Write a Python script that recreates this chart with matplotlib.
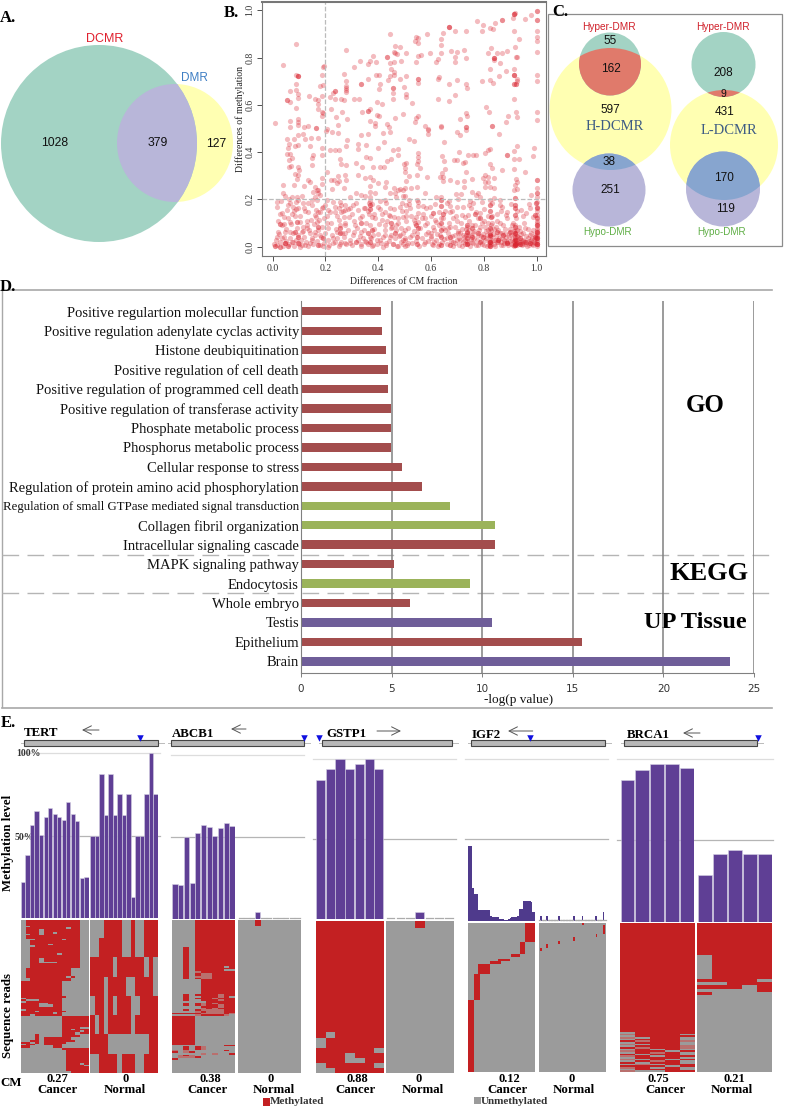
import numpy as np
import matplotlib
matplotlib.use("Agg")
import matplotlib.pyplot as plt
from matplotlib.colors import ListedColormap
from matplotlib.patches import Ellipse, Rectangle

W, H = 787, 1109
SERIF = ["Liberation Serif", "DejaVu Serif"]
SANS = ["Liberation Sans", "DejaVu Sans"]

# Panel A / C counts
VENN_A = ["1028", "379", "127"]
VENN_C_LEFT = ["55", "162", "597", "38", "251"]
VENN_C_RIGHT = ["208", "9", "431", "170", "119"]

# Panel B, digitised (CM difference, methylation difference)
POINTS_UPPER = [
    (.09, .857), (.04, .77), (.19, .762), (.195, .765), (.28, .832), (.088, .728), (.187, .728), (.088, .69),
    (.18, .68), (.193, .685), (.068, .66), (.088, .663), (.096, .646), (.096, .63), (.067, .61), (.138, .639),
    (.161, .623), (.171, .62), (.171, .604), (.171, .581), (.186, .639), (.088, .585), (.186, .57), (.192, .567),
    (.186, .551), (.009, .525), (.068, .532), (.068, .506), (.096, .539), (.096, .529), (.096, .516), (.118, .508),
    (.136, .509), (.205, .496), (.217, .632), (.228, .649), (.236, .623), (.259, .626), (.27, .622), (.272, .732),
    (.277, .70), (.277, .68), (.277, .671), (.277, .661), (.277, .653), (.221, .581), (.241, .549), (.262, .57),
    (.282, .54), (.249, .515), (.309, .76), (.331, .786), (.36, .773), (.369, .784), (.382, .808), (.392, .781),
    (.445, .901), (.465, .848), (.482, .843), (.459, .824), (.463, .818), (.473, .817), (.504, .821), (.444, .779),
    (.459, .781), (.488, .786), (.542, .783), (.551, .805), (.561, .81), (.542, .887), (.55, .884), (.54, .869),
    (.55, .863), (.587, .9), (.597, .819), (.647, .903), (.64, .879), (.64, .852), (.64, .818), (.625, .795),
    (.619, .78), (.692, .914), (.733, .911), (.677, .828), (.699, .825), (.727, .831), (.692, .804), (.692, .783),
    (.732, .8), (.773, .955), (.797, .939), (.794, .913), (.823, .927), (.836, .921), (.843, .946), (.912, .966),
    (.913, .914), (.958, .963), (.98, .98), (1, .914), (1, .889), (1, .87), (.933, .879), (.918, .843), (1, .824),
    (.828, .841), (.849, .821), (.818, .821), (.87, .818), (.887, .828), (.862, .777), (.921, .801), (.926, .801),
    (.823, .752), (.883, .745), (.913, .753), (1, .726), (.857, .722), (.795, .702), (.823, .705), (.836, .691),
    (.928, .709), (.928, .7), (1, .701), (.916, .623), (.807, .59), (.821, .568), (.922, .568), (1, .57), (1, .536),
    (.891, .554), (.928, .549), (.884, .526), (.83, .51), (.732, .69), (.737, .67), (.697, .705), (.67, .688),
    (.692, .64), (.67, .616), (.625, .623), (.732, .567), (.738, .551), (.711, .542), (.732, .505), (.637, .508),
    (.576, .509), (.589, .499), (.55, .694), (.629, .719), (.625, .711), (.504, .721), (.484, .711), (.444, .722),
    (.436, .704), (.459, .74), (.459, .728), (.449, .75), (.391, .728), (.404, .725), (.36, .709), (.409, .69),
    (.405, .667), (.458, .652), (.458, .626), (.499, .674), (.506, .646), (.506, .635), (.309, .625), (.327, .623),
    (.396, .614), (.415, .604), (.53, .606), (.369, .582), (.338, .57), (.396, .557), (.405, .551), (.494, .563),
    (.465, .544), (.55, .553), (.545, .543), (.369, .532), (.387, .525), (.387, .512), (.433, .519), (.442, .505),
    (.538, .529), (.59, .495), (.59, .478), (.639, .509), (.699, .484), (.712, .472), (.732, .508), (.732, .492),
    (.833, .511), (.858, .478), (.518, .456), (.536, .449), (.651, .443),
]
POINTS_LOWER = [
    (.055, .456), (.08, .456), (.098, .472), (.117, .475), (.123, .456), (.145, .458), (.171, .461), (.224, .484),
    (.201, .489), (.249, .48), (.284, .451), (.337, .472), (.362, .475), (.419, .48), (.423, .444), (.444, .484),
    (.063, .433), (.086, .427), (.098, .43), (.06, .416), (.142, .427), (.186, .419), (.189, .388), (.217, .409),
    (.236, .409), (.251, .41), (.277, .427), (.324, .433), (.324, .413), (.356, .43), (.4, .416), (.457, .409),
    (.476, .413), (.054, .392), (.067, .391), (.155, .388), (.148, .377), (.063, .367), (.073, .374), (.255, .37),
    (.259, .348), (.318, .353), (.369, .377), (.356, .381), (.45, .371), (.435, .362), (.476, .388), (.07, .343),
    (.063, .339), (.098, .339), (.102, .324), (.148, .346), (.205, .315), (.277, .346), (.34, .339), (.381, .339),
    (.406, .339), (.421, .339), (.086, .306), (.098, .303), (.094, .286), (.083, .261), (.038, .261), (.121, .258),
    (.133, .282), (.142, .272), (.186, .289), (.189, .264), (.22, .282), (.234, .282), (.249, .3), (.251, .278),
    (.274, .303), (.28, .282), (.243, .268), (.272, .25), (.224, .244), (.322, .303), (.352, .289), (.369, .293),
    (.381, .282), (.369, .258), (.4, .268), (.431, .272), (.428, .254), (.46, .25), (.476, .24), (.494, .24),
    (.161, .254), (.171, .24), (.167, .24), (.155, .233), (.174, .226), (.161, .212), (.148, .197), (.18, .219),
    (.167, .197), (.136, .183), (.038, .226), (.048, .216), (.016, .188), (.033, .193), (.063, .202), (.073, .212),
    (.092, .212), (.11, .216), (.067, .183), (.088, .19), (.098, .197), (.079, .169), (.016, .169), (.035, .141),
    (.054, .155), (.083, .151), (.098, .162), (.117, .183), (.199, .176), (.186, .162), (.174, .148), (.161, .134),
    (.136, .148), (.205, .197), (.255, .188), (.274, .176), (.251, .162), (.259, .145), (.236, .145), (.217, .145),
    (.274, .155), (.293, .162), (.305, .176), (.293, .212), (.315, .226), (.337, .219), (.35, .216), (.369, .233),
    (.369, .212), (.369, .193), (.375, .127), (.35, .162), (.387, .226), (.406, .193), (.428, .197), (.444, .226),
    (.463, .226), (.469, .212), (.406, .159), (.425, .145), (.44, .134), (.482, .169), (.494, .216), (.042, .096),
    (.067, .106), (.117, .085), (.167, .106), (.205, .099), (.211, .078), (.274, .092), (.312, .092), (.337, .063),
    (.369, .042), (.425, .092), (.45, .078), (.469, .092), (.488, .078), (.494, .127), (.022, .063), (.016, .042),
    (.035, .035), (.048, .063), (.067, .063), (.11, .063), (.13, .078), (.142, .056), (.161, .063), (.148, .028),
    (.18, .049), (.23, .035), (.243, .063), (.274, .056), (.31, .063), (.325, .028), (.343, .035), (.363, .056),
    (.381, .049), (.406, .028), (.425, .049), (.444, .042), (.482, .049), (.494, .028), (.079, .021), (.104, 0),
    (.123, .007), (.142, .014), (.192, .004), (.211, 0), (.236, .021), (.255, .01), (.274, .014), (.293, .014),
    (.318, .021), (.337, .01), (.356, .021), (.375, .004), (.394, .01), (.419, 0), (.431, .014), (.457, .01),
    (.476, .004), (.494, .01), (.551, .395), (.551, .378), (.551, .361), (.546, .348), (.505, .355), (.497, .348),
    (.501, .331), (.501, .315), (.559, .331), (.517, .299), (.549, .303), (.587, .293), (.641, .384), (.65, .364),
    (.687, .368), (.698, .367), (.707, .401), (.741, .386), (.76, .386), (.77, .388), (.722, .354), (.728, .36),
    (.806, .395), (.817, .409), (.823, .415), (.916, .406), (.925, .426), (.99, .416), (.988, .385), (.916, .372),
    (.934, .371), (.823, .35), (.83, .331), (.87, .324), (.916, .329), (.957, .316), (.653, .329), (.643, .313),
    (.636, .296), (.646, .296), (.644, .278), (.672, .282), (.697, .274), (.733, .315), (.757, .286), (.725, .278),
    (.725, .252), (.796, .289), (.805, .303), (.817, .296), (.805, .275), (.817, .275), (.84, .292), (.805, .252),
    (.823, .251), (.84, .25), (.923, .286), (.925, .272), (.918, .261), (.916, .24), (.925, .244), (1, .247),
    (1, .212), (.506, .279), (.501, .247), (.525, .247), (.549, .254), (.483, .244), (.501, .214), (.577, .226),
    (.62, .212), (.64, .212), (.695, .223), (.713, .221), (.757, .233), (.78, .226), (.769, .219), (.786, .209),
    (.701, .202), (.669, .193), (.518, .197), (.546, .197), (.747, .193), (.84, .207), (.981, .219), (.506, .176),
    (.518, .179), (.552, .173), (.571, .172), (.672, .172), (.7, .169), (.744, .176), (.792, .19), (.823, .197),
    (.863, .197), (.86, .176), (.943, .155), (.974, .162), (.506, .151), (.552, .141), (.543, .127), (.577, .12),
    (.621, .106), (.672, .145), (.685, .12), (.716, .134), (.75, .162), (.786, .141), (.867, .151), (.886, .134),
    (.962, .141), (.501, .071), (.527, .049), (.577, .092), (.59, .063), (.609, .085), (.666, .078), (.703, .056),
    (.501, .035), (.514, .014), (.501, .004), (.577, .021), (.602, .035), (.609, .007), (.69, .014), (.709, .028),
    (.716, .004),
]
# the crowded band along the bottom, read less exactly
POINTS_BOTTOM = [
    (.005, .012), (.012, .03), (.018, .008), (.024, .055), (.03, .018), (.036, .09), (.04, .005), (.045, .04),
    (.05, .022), (.053, .075), (.058, .12), (.062, .01), (.066, .035), (.07, .095), (.074, .018), (.078, .06),
    (.082, .003), (.085, .13), (.089, .028), (.092, .08), (.096, .048), (.1, .012), (.104, .105), (.108, .03),
    (.112, .006), (.116, .065), (.12, .042), (.124, .15), (.128, .02), (.132, .09), (.136, .004), (.14, .07),
    (.144, .115), (.148, .035), (.152, .012), (.156, .095), (.16, .05), (.164, .155), (.168, .024), (.172, .07),
    (.176, .115), (.18, .008), (.184, .04), (.188, .085), (.192, .17), (.196, .016), (.2, .06), (.205, .13),
    (.21, .03), (.215, .008), (.22, .1), (.225, .05), (.23, .015), (.235, .17), (.24, .075), (.245, .035),
    (.25, .115), (.252, .005), (.256, .09), (.26, .02), (.264, .06), (.268, .15), (.272, .04), (.276, .1),
    (.28, .012), (.285, .07), (.29, .125), (.295, .03), (.3, .008), (.305, .05), (.31, .11), (.315, .018),
    (.32, .08), (.325, .155), (.33, .045), (.335, .004), (.34, .13), (.345, .07), (.35, .025), (.355, .1),
    (.36, .012), (.362, .06), (.365, .14), (.368, .09), (.372, .035), (.376, .18), (.38, .008), (.385, .075),
    (.39, .12), (.395, .03), (.4, .055), (.405, .095), (.41, .015), (.415, .14), (.42, .04), (.425, .07),
    (.43, .006), (.435, .11), (.44, .025), (.445, .165), (.45, .05), (.452, .085), (.456, .012), (.46, .125),
    (.464, .035), (.468, .07), (.472, .004), (.476, .1), (.48, .045), (.485, .02), (.49, .15), (.495, .06),
    (.5, .028), (.505, .11), (.51, .008), (.515, .08), (.52, .04), (.525, .13), (.53, .016), (.535, .065),
    (.54, .1), (.544, .025), (.548, .06), (.552, .105), (.556, .004), (.56, .08), (.565, .035), (.57, .14),
    (.575, .012), (.58, .055), (.585, .1), (.59, .022), (.595, .17), (.6, .045), (.605, .012), (.61, .07),
    (.615, .115), (.62, .03), (.625, .005), (.63, .09), (.634, .05), (.638, .12), (.642, .02), (.646, .08),
    (.65, .032), (.655, .15), (.66, .01), (.665, .06), (.67, .1), (.675, .025), (.68, .045), (.685, .004),
    (.69, .085), (.695, .13), (.7, .03), (.705, .008), (.71, .06), (.715, .1), (.72, .018), (.725, .04),
    (.73, .125), (.733, .075), (.737, .022), (.74, .05), (.744, .11), (.748, .003), (.752, .033), (.756, .09),
    (.76, .015), (.765, .065), (.77, .145), (.775, .028), (.78, .007), (.785, .085), (.79, .045), (.795, .012),
    (.8, .11), (.804, .03), (.808, .065), (.812, .005), (.816, .1), (.82, .02), (.822, .04), (.824, .06),
    (.826, .09), (.828, .012), (.832, .13), (.836, .03), (.84, .075), (.844, .004), (.848, .045), (.852, .11),
    (.856, .018), (.86, .06), (.864, .008), (.868, .035), (.872, .09), (.876, .014), (.88, .055), (.884, .025),
    (.888, .12), (.892, .006), (.896, .04), (.9, .075), (.904, .012), (.908, .03), (.912, .1), (.914, .05),
    (.916, .004), (.918, .016), (.919, .035), (.92, .07), (.921, .01), (.922, .12), (.924, .024), (.926, .045),
    (.928, .006), (.932, .085), (.936, .018), (.94, .055), (.944, .008), (.948, .03), (.952, .1), (.956, .012),
    (.96, .045), (.964, .004), (.968, .075), (.972, .025), (.976, .015), (.98, .06), (.984, .035), (.988, .008),
    (.992, .02), (.996, .05), (1, .004), (1, .012), (1, .02), (1, .028), (1, .04), (1, .048), (1, .056), (1, .07),
    (1, .08), (1, .09), (1, .1), (1, .11), (1, .135), (1, .15), (1, .17), (1, .19),
]
POINTS_BAND = [
    (.02, .11), (.03, .14), (.045, .125), (.06, .175), (.075, .14), (.09, .16), (.105, .13), (.12, .165), (.13, .11),
    (.15, .175), (.165, .125), (.18, .145), (.195, .12), (.21, .155), (.23, .19), (.245, .13), (.26, .175), (.27, .125),
    (.285, .16), (.3, .14), (.315, .185), (.33, .12), (.345, .165), (.36, .15), (.365, .185), (.385, .14), (.4, .17),
    (.415, .115), (.43, .185), (.445, .13), (.46, .16), (.475, .12), (.49, .185), (.505, .13), (.52, .165), (.535, .115),
    (.55, .19), (.565, .12), (.58, .165), (.6, .13), (.615, .18), (.63, .145), (.645, .12), (.66, .185), (.68, .15),
    (.7, .11), (.72, .17), (.74, .135), (.76, .185), (.78, .12), (.8, .16), (.815, .13), (.83, .185), (.85, .14),
    (.87, .17), (.89, .145), (.905, .18), (.925, .15), (.95, .13), (.97, .18), (.985, .125),
]
POINTS_BOTTOM_RIGHT = [
    (.602, .06), (.612, .02), (.622, .055), (.632, .012), (.652, .07), (.662, .035), (.672, .085), (.682, .018),
    (.692, .05), (.702, .065), (.708, .035), (.716, .075), (.722, .05), (.728, .012), (.731, .03), (.734, .048),
    (.736, .085), (.738, .058), (.742, .015), (.746, .07), (.75, .05), (.755, .02), (.758, .06), (.762, .035),
    (.768, .09), (.772, .008), (.778, .05), (.782, .07), (.788, .025), (.792, .1), (.796, .055), (.802, .008),
    (.806, .085), (.81, .035), (.814, .05), (.818, .07), (.821, .008), (.823, .03), (.825, .02), (.827, .045),
    (.829, .07), (.831, .1), (.834, .055), (.838, .012), (.842, .03), (.846, .085), (.85, .02), (.854, .07),
    (.858, .035), (.862, .1), (.866, .02), (.87, .06), (.874, .008), (.878, .03), (.882, .075), (.886, .04),
    (.89, .018), (.894, .06), (.898, .025), (.902, .05), (.906, .09), (.91, .008), (.913, .065), (.915, .025),
    (.917, .04), (.919, .012), (.92, .09), (.922, .055), (.923, .03), (.925, .014), (.927, .07), (.93, .04),
    (.934, .02), (.938, .065), (.942, .03), (.946, .012), (.95, .06), (.954, .025), (.958, .08), (.962, .018),
    (.966, .035), (.97, .006), (.974, .05), (.978, .03), (.982, .012), (.986, .07), (.99, .028), (.994, .014),
    (.998, .035),
]
# points that overlap, with how many sit on the same spot
POINTS_STACKED = [
    (.095, .722, 3), (.055, .622, 2), (.165, .502, 2), (.235, .66, 2), (.433, .801, 2), (.67, .928, 3),
    (.87, .959, 2), (.916, .986, 3), (.92, .987, 1), (1, .999, 2), (1, .96, 2), (.838, .798, 3), (.838, .79, 1),
    (.913, .728, 3), (.913, .688, 2), (.922, .688, 2), (.55, .709, 2), (.337, .687, 2), (.458, .67, 2),
    (.361, .573, 2), (.889, .388, 2), (1, .282, 2), (1, .226, 2), (.64, .197, 2), (.918, .207, 2), (.64, .172, 2),
    (.823, .176, 2), (.918, .176, 2), (.918, .162, 2), (.999, .183, 2), (1, .162, 2), (.609, .141, 2),
    (.645, .137, 2), (.767, .137, 2), (.786, .12, 2), (.823, .151, 2), (.826, .127, 2), (.918, .134, 2),
    (.994, .134, 2), (1, .12, 2), (.369, .176, 2), (.369, .159, 2), (.029, .096, 2), (.092, .103, 2),
    (.174, .085, 2), (.255, .078, 2), (.255, .056, 2), (.337, .099, 2), (.375, .071, 2), (.45, .099, 2),
    (.086, .063, 2), (.095, .042, 2), (.192, .035, 2), (.369, .021, 2), (.463, .056, 2), (.01, .004, 2),
    (.029, 0, 2), (.048, .014, 3), (.06, .004, 2), (.098, .014, 2), (.174, .007, 2), (.543, .092, 2),
    (.552, .078, 2), (.546, .042, 2), (.64, .099, 2), (.64, .071, 2), (.64, .042, 2), (.64, .007, 2),
    (.672, .042, 2), (.672, .007, 2), (.735, .092, 2), (.735, .063, 2), (.735, .035, 2), (.735, .01, 3),
    (.754, .078, 2), (.754, .042, 2), (.779, .056, 2), (.786, .021, 2), (.798, .042, 2), (.823, .078, 2),
    (.823, .049, 3), (.823, .021, 3), (.823, .004, 3), (.849, .063, 2), (.855, .028, 3), (.874, .049, 2),
    (.887, .014, 3), (.9, .063, 2), (.918, .085, 2), (.918, .056, 3), (.918, .028, 3), (.918, .007, 4),
    (.937, .035, 2), (.937, .01, 3), (.956, .021, 2), (.974, .014, 2), (.994, .042, 2), (1, .092, 2),
    (1, .063, 3), (1, .035, 3), (1, .01, 3), (.546, .01, 2),
]

# Panel D
GO_TERMS = [
    "Positive regulartion molecullar function", "Positive regulation adenylate cyclas activity",
    "Histone deubiquitination", "Positive regulation of cell death", "Positive regulation of programmed cell death",
    "Positive regulation of transferase activity", "Phosphate metabolic process", "Phosphorus metabolic process",
    "Cellular response to stress", "Regulation of protein amino acid phosphorylation",
    "Regulation of small GTPase mediated signal transduction", "Collagen fibril organization",
    "Intracellular signaling cascade", "MAPK signaling pathway", "Endocytosis", "Whole embryo", "Testis",
    "Epithelium", "Brain",
]
GO_VALUES = [4.4, 4.45, 4.7, 4.8, 4.8, 4.95, 4.95, 4.95, 5.6, 6.7, 8.2, 10.7, 10.7, 5.15, 9.35, 6.0, 10.55, 15.5, 23.65]
GO_KIND = "rrrrrrrrrrggrrgrprp"

# Panel E, methylation level per CpG
TERT_CANCER = [21.8, 38.4, 56.6, 65, 50.5, 61.2, 66.7, 63.4, 61.2, 59.8, 70.3, 63.4, 59, 24, 24.8]
TERT_NORMAL = [50, 50, 87.5, 62.5, 87.5, 62.5, 75, 62.5, 75, 12.5, 50, 50, 75, 100, 75]
ABCB1_CANCER = [21.5, 20.7, 49.8, 22, 52.2, 57.3, 55.9, 50.8, 55.7, 58.3, 56.9]
ABCB1_NORMAL = [0, 0, 0, 4.5, 0, 0, 0, 0, 0, 0, 0]
GSTP1_CANCER = [86.5, 93.3, 100, 93.3, 96.5, 100, 93.3]
GSTP1_NORMAL = [0, 0, 0, 4.2, 0, 0, 0]
IGF2_CANCER = [46, 46, 46, 20, 16.5, 16.5, 16.5, 6.5, 6.5, 6.5, 6.5, 6.5, 6.5, 6.5, 6.5, 3, 2.5, 2.5, 2, 2, 2, 1, .8,
               .8, .5, .5, .5, 1, 1.5, 2.3, 2.3, 2.3, 2.3, 2.8, 7.5, 7.5, 7.5, 12, 12, 12, 12, 12, 11.5, 5.5, 5.5]
IGF2_NORMAL = [0, 2.9, 0, 0, 0, 2.9, 0, 0, 0, 0, 0, 0, 0, 2.9, 0, 0, 0, 0, 0, 0, 0, 0, 0, 2.9, 0, 0, 0, 0, 0, 2.9, 0, 0,
               0, 0, 0, 0, 0, 0, 2.9, 0, 0, 0, 0, 5.4, 0]
BRCA1_CANCER = [87, 93.3, 96.7, 96.7, 94.3]
BRCA1_NORMAL = [28.6, 41.8, 43.9, 41.8, 41.8]

# Panel E reads, (repeat, pattern): 1 methylated, 0 unmethylated, + faint
TERT_CANCER_READS = [
    (4, "011111111111100"), (1, "001111111111100"), (1, "011111111101100"), (2, "011101111111100"),
    (1, "011101101111100"), (1, "001101111111100"), (2, "011111111111100"), (1, "000111111011100"),
    (2, "001111111111100"), (1, "001111011111100"), (1, "000111111111100"), (4, "001111111111100"),
    (1, "001111110111100"), (2, "001111111111100"), (2, "001101111111100"), (1, "001100001111100"),
    (3, "001111111111100"), (5, "011111111110000"), (1, "011111111101000"), (2, "001111111110000"),
    (9, "111111111000000"), (1, "111111111100000"), (1, "011111111000000"), (1, "100011111000000"),
    (1, "011111111000000"), (1, "111100111000000"), (2, "111100011000000"), (1, "111111111000000"),
    (1, "011111111000000"), (1, "111011111100000"), (1, "111111101000000"), (1, "110111111000000"),
    (7, "000000000111111"), (1, "000000000111100"), (1, "000000000110111"), (1, "000000000111101"),
    (1, "000000000111011"), (1, "000100000111000"), (1, "000100000111100"), (2, "000101111110000"),
    (1, "001101111111000"), (1, "110101111100000"), (1, "011001111000000"), (2, "110000011000000"),
    (1, "000000000111111"), (8, "000000000011111"), (1, "000000000011101"), (1, "000000000011110"),
    (3, "000000000011111"), (1, "000000000001111"),
]
TERT_NORMAL_READS = [
    (6, "000111100100111"), (6, "001111100100111"), (6, "111110111111010"), (6, "111011110011110"),
    (6, "011010111001111"), (6, "101011111011111"), (6, "111100000000011"), (6, "001111011100111"),
]
ABCB1_CANCER_READS = [
    (17, "00001111111"), (11, "00101111111"), (1, "00101111101"), (1, "00101111111"), (1, "00101111100"),
    (1, "0010+111111"), (1, "00101++1111"), (1, "00101++1111"), (1, "0010+++1111"), (1, "00101++1111"),
    (9, "00000111111"), (1, "00101111+11"), (1, "00100111+10"), (1, "0010111+111"), (1, "00100111+11"),
    (1, "00000011111"), (1, "00101+1+111"), (1, "00101+11+11"), (1, "00000111+11"), (1, "00000+1+111"),
    (1, "00101++++11"), (1, "0000+1+++11"), (1, "11111++++1+"), (1, "0000+1111+0"), (17, "11110000000"),
    (1, "00000000011"), (2, "00101+00000"), (1, "+0+00000010"), (1, "10+10000000"), (1, "00000+0+001"),
    (1, "0+1+0000000"), (1, "0+++1000000"), (1, "10000000000"), (8, "00000000000"),
]
ABCB1_NORMAL_READS = [(4, "00010000000"), (88, "00000000000")]
GSTP1_CANCER_READS = [
    (22, "1111111"), (1, "1011111"), (2, "0111111"), (1, "1111110"), (1, "1110111"), (1, "1110011"),
    (1, "0111110"), (1, "0011111"),
]
GSTP1_NORMAL_READS = [(1, "0001000"), (22, "0000000")]
BRCA1_CANCER_READS = [
    (66, "11111"), (1, "01111"), (1, "+1110"), (1, "01111"), (1, "+0110"), (1, "01110"), (1, "1+11+"), (1, "01110"),
    (1, "+0110"), (1, "0111+"), (1, "1+11+"), (1, "01010"), (1, "+1101"), (1, "01+10"), (1, "10110"), (1, "+1011"),
    (1, "01110"), (1, "+0101"), (1, "01+10"), (1, "10110"), (1, "0+011"), (1, "11101"), (1, "+1010"), (1, "01110"),
    (1, "+0011"),
]
BRCA1_NORMAL_READS = [
    (10, "11111"), (7, "01111"), (1, "11110"), (1, "00111"), (1, "11101"), (1, "00001"), (1, "10000"), (23, "00000"),
]
# IGF2 is too sparse for patterns: (repeat, first column, width), rows from the top
IGF2_CANCER_READS = [
    (12, 38, 7), (7, 35, 3), (2, 29, 6), (1, 0, 0), (1, 20, 8), (2, 15, 7), (6, 7, 8), (15, 4, 4), (43, 0, 4),
]
IGF2_NORMAL_READS = [(2, 29, 1), (5, 43, 1), (2, 38, 1), (2, 23, 1), (2, 13, 1), (2, 5, 1), (2, 1, 1), (71, 0, 0)]

GENES = ["TERT", "ABCB1", "GSTP1", "IGF2", "BRCA1"]
CM_CANCER = ["0.27", "0.38", "0.88", "0.12", "0.75"]
CM_NORMAL = ["0", "0", "0", "0", "0.21"]

# colours
GREEN = "#A3D3C4"
YELLOW = "#FFFFB2"
PURPLE = "#B8B6D9"
OVER_RED = "#E07A6B"
OVER_BLUE = "#87A5CF"
FRAME = "#8C8C8C"
GO_COLORS = {"r": "#A34D4D", "g": "#9BB35A", "p": "#6F5E99"}
READ_CMAP = ListedColormap(["#9B9B9B", "#C32022", "#B9706E"])


def px_axes(x0, y0, x1, y1):
    ax = fig.add_axes([x0 / W, 1 - y1 / H, (x1 - x0) / W, (y1 - y0) / H])
    ax.patch.set_visible(False)
    return ax


def add_ellipse(box, color, clip=None, zorder=1):
    cx, cy, rx, ry = box
    patch = Ellipse((cx, cy), 2 * rx, 2 * ry, facecolor=color, edgecolor="none", zorder=zorder)
    ov.add_patch(patch)
    if clip is not None:
        patch.set_clip_path(clip)
    return patch


def label(x, y, s, **kw):
    kw.setdefault("ha", "center")
    kw.setdefault("va", "center")
    ov.text(x, y, s, zorder=6, **kw)


def draw_bars(box, values):
    ax = px_axes(*box)
    n = len(values)
    centers = np.arange(n) + 0.5
    if n > 20:
        # IGF2 has many narrow columns, no gaps between them
        ax.bar(centers, values, width=1.0, color="#4F3A8C", linewidth=0)
    else:
        ax.bar(centers, values, width=0.93, color="#5F3F95", edgecolor="#D5D1E3", linewidth=0.4)
    for c, v in zip(centers, values):
        if v == 0:
            half = 0.5 if n > 20 else 0.38
            ax.plot([c - half, c + half], [0.4, 0.4], color="#ABABAB", linewidth=0.9, clip_on=False)
    ax.set_xlim(0, n)
    ax.set_ylim(0, 100)
    ax.axis("off")
    return ax


def draw_reads(box, rows):
    matrix = []
    for repeat, pattern in rows:
        codes = [{"0": 0, "1": 1, "+": 2}[c] for c in pattern]
        matrix += [codes] * repeat
    ax = px_axes(*box)
    ax.imshow(np.array(matrix), aspect="auto", cmap=READ_CMAP, vmin=0, vmax=2, interpolation="nearest")
    ax.axis("off")


def sparse_rows(rows, n_cols):
    out = []
    for repeat, first, width in rows:
        pattern = "0" * first + "1" * width + "0" * (n_cols - first - width)
        out.append((repeat, pattern))
    return out


fig = plt.figure(figsize=(W / 100, H / 100), dpi=100, facecolor="white")

# pixel overlay for venns, frames and loose text
ov = fig.add_axes([0, 0, 1, 1])
ov.set_xlim(0, W)
ov.set_ylim(H, 0)
ov.axis("off")

# ---- A. venn
add_ellipse((175, 143, 58, 59), YELLOW)
dcmr = add_ellipse((99, 143.5, 98, 98.5), GREEN, zorder=2)
add_ellipse((175, 143, 58, 59), PURPLE, clip=dcmr, zorder=3)
label(105, 39, "DCMR", color="#E0202E", family=SANS, fontsize=9)
label(194, 78, "DMR", color="#3F7FC4", family=SANS, fontsize=8.5)
for (x, y), s in zip([(55, 143), (158, 143), (216, 144)], VENN_A):
    label(x, y, s, color="#111111", family=SANS, fontsize=8.8)

# ---- C. two venns inside a frame
ov.add_patch(Rectangle((547.5, 13.5), 234, 232, fill=False, edgecolor=FRAME, linewidth=0.9, zorder=5))
for hyper, dcmr_box, hypo, first, texts, name, name_x in [
    ((610, 64, 31, 31.5), (610.5, 109, 61, 61), (609, 190, 36.5, 36.5), 0, VENN_C_LEFT, "H-DCMR", 615),
    ((723.5, 64.5, 32, 32.5), (724, 145, 54, 55), (723, 189, 37, 37.5), 1, VENN_C_RIGHT, "L-DCMR", 729),
]:
    y_clip = add_ellipse(dcmr_box, YELLOW, zorder=1)
    add_ellipse(hyper, GREEN, zorder=2)
    add_ellipse(hypo, PURPLE, zorder=2)
    add_ellipse(hyper, OVER_RED, clip=y_clip, zorder=3)
    add_ellipse(hypo, OVER_BLUE, clip=y_clip, zorder=3)
    xs = [610, 611, 610, 609, 610] if first == 0 else [723, 723, 725, 724, 725]
    ys = [41, 69, 110, 162, 190] if first == 0 else [73, 94, 112, 178, 209]
    for x, y, s in zip(xs, ys, texts):
        label(x, y, s, color="#111111", family=SANS, fontsize=8.5 if s != "9" else 7.5)
    label(name_x, 126 if first == 0 else 130, name, color="#3E5C84", family=SERIF, fontsize=10.5)
    label(hyper[0] - 1, 27, "Hyper-DMR", color="#D0202A", family=SANS, fontsize=7.3)
    label(hyper[0] - 2, 232, "Hypo-DMR", color="#5FAE45", family=SANS, fontsize=7.1)

# ---- B. scatter
ax_b = px_axes(262, 1.5, 546, 256)
stacked = np.array(POINTS_STACKED)
stack = np.repeat(stacked[:, :2], stacked[:, 2].astype(int), axis=0)
pts = np.vstack([np.array(POINTS_UPPER), np.array(POINTS_LOWER), np.array(POINTS_BOTTOM),
                 np.array(POINTS_BAND), np.array(POINTS_BOTTOM_RIGHT), stack])
ax_b.scatter(pts[:, 0], pts[:, 1], s=14, color="#D9202C", alpha=0.3, linewidths=0)
ax_b.axvline(0.2, color="#BBBBBB", linestyle="--", linewidth=0.9)
ax_b.axhline(0.2, color="#BBBBBB", linestyle="--", linewidth=0.9)
# data range 0..1 sits at 272.5..536.5 px and 246.7..10.3 px
ax_b.set_xlim((262 - 272.5) / 264, (546 - 272.5) / 264)
ax_b.set_ylim((246.7 - 256) / 236.4, (246.7 - 1.5) / 236.4)
ax_b.set_xticks(np.arange(0, 1.01, 0.2))
ax_b.set_yticks(np.arange(0, 1.01, 0.2))
ax_b.set_xticklabels(["0.0", "0.2", "0.4", "0.6", "0.8", "1.0"], family=SERIF, fontsize=7)
ax_b.set_yticklabels(["0.0", "0.2", "0.4", "0.6", "0.8", "1.0"], family=SERIF, fontsize=7, rotation=90, va="center")
ax_b.tick_params(colors="#333333", length=3.5, width=0.6, pad=2)
for spine in ax_b.spines.values():
    spine.set_color("#777777")
ax_b.spines["top"].set_linewidth(1.5)
label(404, 281, "Differences of CM fraction", family=SERIF, fontsize=7, color="#222222")
label(240, 119, "Differences of methylation", family=SERIF, fontsize=7, color="#222222", rotation=90)

# ---- D. enrichment bars
ax_d = px_axes(301, 301, 754, 673)
ypos = np.arange(len(GO_TERMS))
ax_d.vlines([5, 10, 15, 20, 25], -0.53, 18.6, color="#808080", linewidth=1.1, zorder=1)
ax_d.barh(ypos, GO_VALUES, height=0.43, color=[GO_COLORS[k] for k in GO_KIND], zorder=2)
ax_d.set_xlim(0, 25)
ax_d.set_ylim(18.6, -0.53)
ax_d.set_yticks(ypos)
ax_d.set_yticklabels(GO_TERMS, family=SERIF, fontsize=10.5, color="#111111")
ax_d.get_yticklabels()[10].set_fontsize(9.3)
ax_d.set_xticks([0, 5, 10, 15, 20, 25])
ax_d.tick_params(axis="y", length=0, pad=1.5)
ax_d.tick_params(axis="x", length=3, width=0.7, color="#808080", labelsize=7.5, labelcolor="#333333", pad=5)
ax_d.spines["top"].set_visible(False)
ax_d.spines["right"].set_visible(False)
ax_d.spines["left"].set_color("#808080")
ax_d.spines["bottom"].set_color("#808080")
label(519, 700.5, "-log(p value)", family=SERIF, fontsize=9.5, color="#111111")
ov.plot([2, 772], [290, 290], color="#A8A8A8", linewidth=1.2)
ov.plot([2, 2], [290, 707], color="#A8A8A8", linewidth=1.0)
ov.plot([2, 772], [707.5, 707.5], color="#A8A8A8", linewidth=1.2)
ov.plot([2, 772], [554.7, 554.7], color="#B5B5B5", linewidth=1.0, dashes=(12, 6))
ov.plot([2, 772], [592.7, 592.7], color="#B5B5B5", linewidth=1.0, dashes=(12, 6))
label(705, 405, "GO", family=SERIF, fontsize=18, fontweight="bold")
label(709, 573, "KEGG", family=SERIF, fontsize=19, fontweight="bold")
label(695, 622, "UP Tissue", family=SERIF, fontsize=17.5, fontweight="bold")

# ---- E. gene panels
tops = [753.3, 755, 758.7, 759.3, 758.7]
mids = [835.7, 837.3, 838.7, 839.3, 840]
bases = [918, 919, 918.7, 920.7, 922]
read_tops = [919.7, 919.7, 921.3, 922.7, 922.7]
read_bottoms = [1073.3, 1073, 1073.3, 1072, 1072]
line_spans = [(23, 160), (171, 304), (313, 456), (465, 608), (617, 773)]
cancer_x = [(20.7, 88.7), (172.3, 234.7), (315.7, 383.7), (468, 535), (620, 694.3)]
normal_x = [(90.3, 157.7), (238, 300.3), (385.7, 453.7), (539, 605.7), (697.3, 772.3)]
gene_bars = [(24, 158), (171, 304), (322, 452), (471, 605), (624, 757)]
gene_text = [(24, 733), (172, 734), (326, 734), (472, 735), (627, 735)]
arrows = [(99, 82, 730), (246, 231, 729), (377, 401, 731), (532.7, 508, 731), (700, 683, 733)]
sites = [140, 304, 319, 530, 758]
cancer_vals = [TERT_CANCER, ABCB1_CANCER, GSTP1_CANCER, IGF2_CANCER, BRCA1_CANCER]
normal_vals = [TERT_NORMAL, ABCB1_NORMAL, GSTP1_NORMAL, IGF2_NORMAL, BRCA1_NORMAL]
cancer_reads = [TERT_CANCER_READS, ABCB1_CANCER_READS, GSTP1_CANCER_READS,
                sparse_rows(IGF2_CANCER_READS, 45), BRCA1_CANCER_READS]
normal_reads = [TERT_NORMAL_READS, ABCB1_NORMAL_READS, GSTP1_NORMAL_READS,
                sparse_rows(IGF2_NORMAL_READS, 45), BRCA1_NORMAL_READS]
cm_x = [(57, 126), (210, 271), (357, 419), (509, 572), (658, 734)]
group_x = [(58, 125), (207, 274), (356, 423), (508, 574), (665, 732)]

for i, gene in enumerate(GENES):
    x0, x1 = line_spans[i]
    ov.plot([x0, x1], [tops[i], tops[i]], color="#DDDDDD", linewidth=0.9)
    ov.plot([x0, x1], [mids[i], mids[i]], color="#B5B5B5", linewidth=0.9)
    bx0, bx1 = gene_bars[i]
    ov.plot([bx0 - 3, bx1 + 6], [742.5, 742.5], color="#BBBBBB", linewidth=0.7, zorder=1)
    ov.add_patch(Rectangle((bx0, 739.5), bx1 - bx0, 6.5, facecolor="#B8B8B8", edgecolor="#444444",
                           linewidth=0.8, zorder=2))
    ov.text(gene_text[i][0], gene_text[i][1], gene, family=SERIF, fontsize=9.3, fontweight="bold",
            ha="left", va="center", zorder=6)
    a0, a1, ay = arrows[i]
    ov.annotate("", xy=(a1, ay), xytext=(a0, ay), zorder=5,
                arrowprops=dict(arrowstyle="->", color="#555555", linewidth=0.7, mutation_scale=15,
                                shrinkA=0, shrinkB=0))
    ov.scatter([sites[i]], [738], marker="v", s=22, color="#1010E0", linewidths=0, zorder=6)
    draw_bars((cancer_x[i][0], tops[i], cancer_x[i][1], bases[i]), cancer_vals[i])
    draw_bars((normal_x[i][0], tops[i], normal_x[i][1], bases[i]), normal_vals[i])
    draw_reads((cancer_x[i][0], read_tops[i], cancer_x[i][1], read_bottoms[i]), cancer_reads[i])
    draw_reads((normal_x[i][0], read_tops[i], normal_x[i][1], read_bottoms[i]), normal_reads[i])
    label(cm_x[i][0], 1079, CM_CANCER[i], family=SERIF, fontsize=9, fontweight="bold")
    label(cm_x[i][1], 1079, CM_NORMAL[i], family=SERIF, fontsize=9, fontweight="bold")
    label(group_x[i][0], 1090, "Cancer", family=SERIF, fontsize=9.3, fontweight="bold")
    label(group_x[i][1], 1090, "Normal", family=SERIF, fontsize=9.3, fontweight="bold")

label(8, 843, "Methylation level", family=SERIF, fontsize=9.3, fontweight="bold", rotation=90)
label(8, 1015, "Sequence reads", family=SERIF, fontsize=9.3, fontweight="bold", rotation=90)
label(28, 753, "100%", family=SERIF, fontsize=7, fontweight="bold", color="#333333")
label(24, 837, "50%", family=SERIF, fontsize=7, fontweight="bold", color="#333333")
label(11, 1083, "CM", family=SERIF, fontsize=9.3, fontweight="bold")

# legend squares
ov.add_patch(Rectangle((263, 1098), 6.5, 8, facecolor="#C32022", edgecolor="none"))
label(270, 1102, "Methylated", family=SERIF, fontsize=8, ha="left", fontweight="bold", color="#333333")
ov.add_patch(Rectangle((474, 1097), 7, 7, facecolor="#9B9B9B", edgecolor="none"))
label(481, 1101, "Unmethylated", family=SERIF, fontsize=8, ha="left", fontweight="bold", color="#333333")

# panel letters
for x, y, s in [(8, 18, "A."), (231, 13, "B."), (560, 12, "C."), (8, 287, "D."), (8, 723, "E.")]:
    label(x, y, s, family=SERIF, fontsize=12, fontweight="bold")

fig.savefig("out.png", dpi=100)
